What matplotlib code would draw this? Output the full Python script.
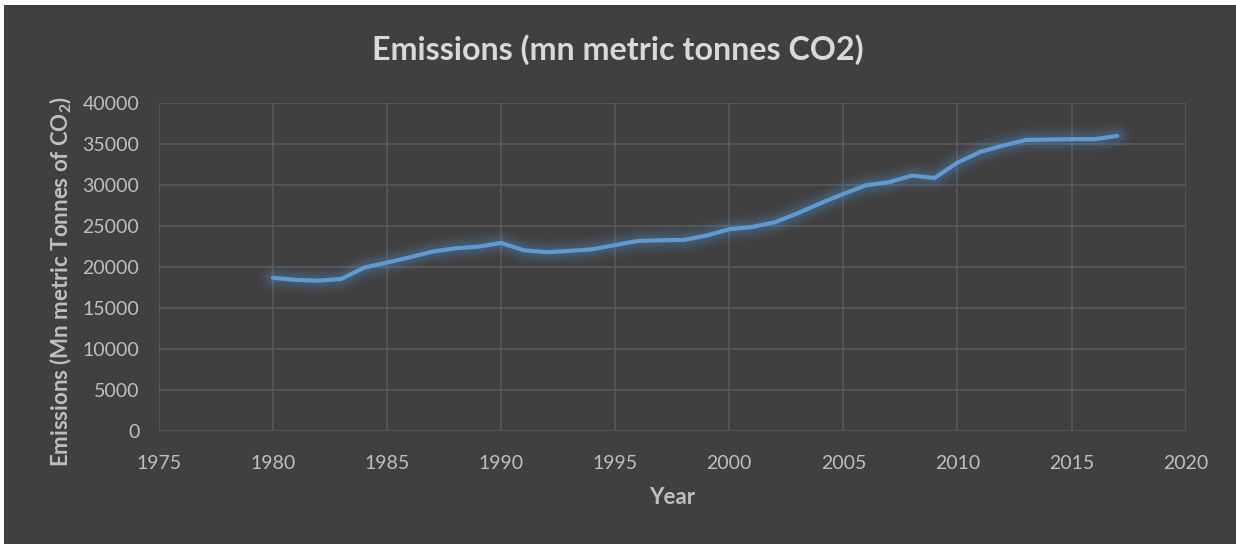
import matplotlib
matplotlib.use("Agg")
import matplotlib.pyplot as plt
from matplotlib.patches import Rectangle

years = [1980, 1981, 1982, 1983, 1984, 1985, 1986, 1987, 1988, 1989,
         1990, 1991, 1992, 1993, 1994, 1995, 1996, 1997, 1998, 1999,
         2000, 2001, 2002, 2003, 2004, 2005, 2006, 2007, 2008, 2009,
         2010, 2011, 2012, 2013, 2014, 2015, 2016, 2017]
emissions = [18700, 18440, 18350, 18560, 19940, 20550, 21200, 21900, 22300, 22500,
             22950, 22060, 21820, 21980, 22180, 22700, 23200, 23280, 23320, 23850,
             24630, 24900, 25480, 26580, 27800, 28940, 30000, 30370, 31170, 30890,
             32760, 34070, 34840, 35530, 35570, 35620, 35620, 36020]
x_ticks = [1975, 1980, 1985, 1990, 1995, 2000, 2005, 2010, 2015, 2020]
y_ticks = [0, 5000, 10000, 15000, 20000, 25000, 30000, 35000, 40000]

title = "Emissions (mn metric tonnes CO2)"
xlabel = "Year"
ylabel = "Emissions (Mn metric Tonnes of CO$_\\mathbf{2}$)"

BG = "#404040"
GRID = "#595959"
TXT = "#bfbfbf"
LINE = "#5b9bd5"

plt.rcParams['font.family'] = ['Lato', 'DejaVu Sans']
plt.rcParams['mathtext.fontset'] = 'custom'
plt.rcParams['mathtext.rm'] = 'Lato'
plt.rcParams['mathtext.bf'] = 'Lato:bold'

fig = plt.figure(figsize=(12.36, 5.44), dpi=100)
fig.patch.set_facecolor("white")
fig.patches.append(Rectangle((4 / 1236, 0), 1 - 4 / 1236, 1 - 5 / 544,
                             transform=fig.transFigure, facecolor=BG,
                             edgecolor="none", zorder=-10))

ax = fig.add_axes([158.7 / 1236, 113 / 544, (1185.7 - 158.7) / 1236, (431 - 103.3) / 544])
ax.set_facecolor(BG)

# glow
for lw, a in [(20, 0.04), (16, 0.06), (12, 0.08), (8, 0.12)]:
    ax.plot(years, emissions, color=LINE, linewidth=lw, alpha=a,
            solid_capstyle="round", solid_joinstyle="round", zorder=2)
ax.plot(years, emissions, color=LINE, linewidth=3.0, solid_capstyle="round",
        solid_joinstyle="round", zorder=3)

ax.set_xlim(1975, 2020)
ax.set_ylim(0, 40000)
ax.set_xticks(x_ticks)
ax.set_yticks(y_ticks)
ax.grid(True, color=GRID, linewidth=1.2)
ax.set_axisbelow(True)
for s in ax.spines.values():
    s.set_visible(False)
ax.tick_params(length=0, colors=TXT, labelsize=14)
ax.tick_params(axis="x", pad=17)
ax.tick_params(axis="y", pad=14)

ax.set_xlabel(xlabel, color=TXT, fontsize=16, fontweight="bold", labelpad=11)
ax.set_ylabel(ylabel, color=TXT, fontsize=16, fontweight="bold", labelpad=6)
ax.yaxis.label.set_y(0.456)

fig.text(0.5, 1 - 50 / 544, title, ha="center", va="center",
         color="#d9d9d9", fontsize=23.2, fontweight="bold")

fig.savefig("out.png", dpi=100, facecolor=fig.get_facecolor())
